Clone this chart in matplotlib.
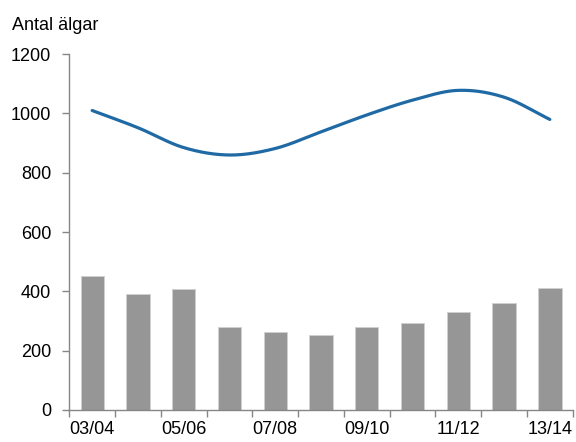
import numpy as np
import matplotlib
matplotlib.use("Agg")
import matplotlib.pyplot as plt
from matplotlib.ticker import FixedLocator, NullFormatter

plt.rcParams['font.family'] = ['Liberation Sans', 'DejaVu Sans']

seasons = ["03/04", "04/05", "05/06", "06/07", "07/08", "08/09",
           "09/10", "10/11", "11/12", "12/13", "13/14"]
bar_vals = [452, 391, 408, 279, 262, 253, 279, 293, 329, 360, 411]
line_vals = [1010, 952, 885, 860, 882, 938, 995, 1045, 1078, 1055, 980]
yticks = [0, 200, 400, 600, 800, 1000, 1200]


def smooth(xs, ys, steps=30):
    # catmull-rom through the points, like excel's smoothed line
    xs = np.asarray(xs, float)
    ys = np.asarray(ys, float)
    px = np.concatenate([[2 * xs[0] - xs[1]], xs, [2 * xs[-1] - xs[-2]]])
    py = np.concatenate([[2 * ys[0] - ys[1]], ys, [2 * ys[-1] - ys[-2]]])
    outx, outy = [], []
    t = np.linspace(0, 1, steps)
    for i in range(1, len(px) - 2):
        for p, out in ((px, outx), (py, outy)):
            p0, p1, p2, p3 = p[i - 1], p[i], p[i + 1], p[i + 2]
            out.extend(0.5 * ((2 * p1) + (-p0 + p2) * t
                              + (2 * p0 - 5 * p1 + 4 * p2 - p3) * t ** 2
                              + (-p0 + 3 * p1 - 3 * p2 + p3) * t ** 3))
    return outx, outy


fig = plt.figure(figsize=(5.76, 4.42), dpi=100)
ax = fig.add_axes([0.1203, 0.0724, 0.874, 0.805])

x = np.arange(len(seasons))
ax.bar(x, bar_vals, width=0.51, color="#969696", edgecolor="#d0d0d0", linewidth=0.6)
sx, sy = smooth(x, line_vals)
ax.plot(sx, sy, color="#1f6aa5", linewidth=2.3, solid_capstyle="round")

ax.set_xlim(-0.5, len(seasons) - 0.5)
ax.set_ylim(0, 1200)
ax.set_yticks(yticks)

# ticks at category borders, labels on every other category
ax.xaxis.set_major_locator(FixedLocator(np.arange(len(seasons) + 1) - 0.5))
ax.xaxis.set_major_formatter(NullFormatter())
ax.xaxis.set_minor_locator(FixedLocator(x[::2]))
ax.set_xticklabels(seasons[::2], minor=True)
ax.tick_params(axis="x", which="minor", length=0, pad=8, labelsize=13)
ax.tick_params(axis="x", which="major", length=5, width=1, color="#868686", direction="out")
ax.tick_params(axis="y", length=5, width=1, color="#868686", pad=8, labelsize=13)

for s in ("top", "right"):
    ax.spines[s].set_visible(False)
for s in ("left", "bottom"):
    ax.spines[s].set_color("#868686")
    ax.spines[s].set_linewidth(1)

fig.text(12 / 576, 1 - 25 / 442, "Antal älgar", fontsize=13, va="center", ha="left")

fig.savefig("out.png", dpi=100)
